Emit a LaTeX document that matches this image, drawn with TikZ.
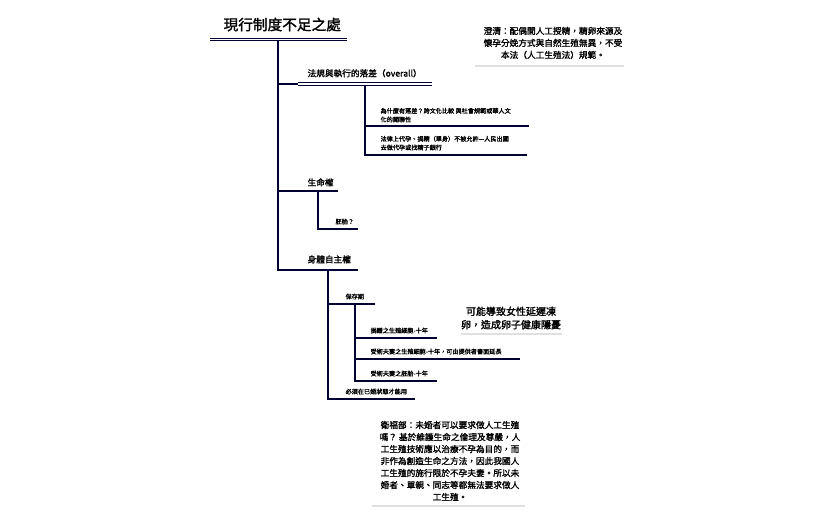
\documentclass[tikz,border=0pt]{standalone}
\usepackage{fontspec}
\setmainfont{Noto Sans CJK TC}[AutoFakeBold=1.5]
\begin{document}
\begin{tikzpicture}[x=0.75pt,y=-0.75pt,
  ln/.style={draw=black!80!blue,line width=0.9pt},
  dbl/.style={draw=black!80!blue,line width=0.8pt,double distance=1.2pt,double=white},
  t1/.style={font=\fontsize{11}{13}\selectfont\bfseries,anchor=south west,inner sep=1pt},
  t2/.style={font=\fontsize{6.5}{8}\selectfont\bfseries,anchor=south west,inner sep=1pt},
  t3/.style={font=\fontsize{4.6}{6.5}\selectfont\bfseries,anchor=south west,inner sep=1pt,align=left},
  note/.style={font=\fontsize{6.5}{9}\selectfont\bfseries,align=center,inner sep=1pt},
  fl/.style={draw=black!12,line width=1pt}]
\useasboundingbox (0,0) rectangle (834,516);
% title
\node[t1] (title) at (222,33) {現行制度不足之處};
\draw[dbl] (210,39.5) -- (347,39.5);
\coordinate (r0) at (278,41);
% level 1
\node[t2] (a) at (306,79) {法規與執行的落差（overall）};
\draw[dbl] (298,84) -- (432,84);
\node[t2] (b) at (306,188) {生命權};
\draw[ln] (298,191) -- (338,191);
\node[t2] (c) at (306,265) {身體自主權};
\draw[ln] (298,270) -- (358,270);
\draw[ln] (r0) -- (278,270) -- (298,270);
\draw[ln] (278,84) -- (298,84);
\draw[ln] (278,191) -- (298,191);
% a children
\node[t3] (a1) at (379,124) {為什麼有落差？跨文化比較 與社會規範或華人文\\化的關聯性};
\node[t3] (a2) at (379,152) {法律上代孕、捐精（單身）不被允許---人民出國\\去做代孕或找精子銀行};
\draw[ln] (365,85) -- (365,155) -- (527,155);
\draw[ln] (365,126) -- (529,126);
% b children
\node[t3] (b1) at (334,226) {胚胎？};
\draw[ln] (318,192) -- (318,229) -- (358,229);
% c children
\node[t3] (c1) at (344,301) {保存期};
\node[t3] (c2) at (344,396) {必須在已婚狀態才能用};
\draw[ln] (328,271) -- (328,399) -- (415,399);
\draw[ln] (328,304) -- (375,304);
\node[t3] (d1) at (369,335) {捐贈之生殖細胞-十年};
\node[t3] (d2) at (369,356) {受術夫妻之生殖細胞-十年，可由提供者書面延長};
\node[t3] (d3) at (369,378) {受術夫妻之胚胎-十年};
\draw[ln] (355,305) -- (355,381) -- (437,381);
\draw[ln] (355,338) -- (437,338);
\draw[ln] (355,359) -- (520,359);
% notes
\node[note] (n1) at (553,43) {澄清：配偶間人工授精，精卵來源及\\懷孕分娩方式與自然生殖無異，不受\\本法（人工生殖法）規範。};
\draw[fl] (475,66) -- (624,66);
\node[note,font=\fontsize{7.5}{10}\selectfont\bfseries] (n2) at (511,318) {可能導致女性延遲凍\\卵，造成卵子健康隱憂};
\draw[fl] (461,334) -- (562,334);
\node[note] (n3) at (450,461) {衛福部：未婚者可以要求做人工生殖\\嗎？ 基於維護生命之倫理及尊嚴，人\\工生殖技術應以治療不孕為目的，而\\非作為創造生命之方法，因此我國人\\工生殖的施行限於不孕夫妻。所以未\\婚者、單親、同志等都無法要求做人\\工生殖。};
\draw[fl] (372,506) -- (525,506);
\end{tikzpicture}
\end{document}
